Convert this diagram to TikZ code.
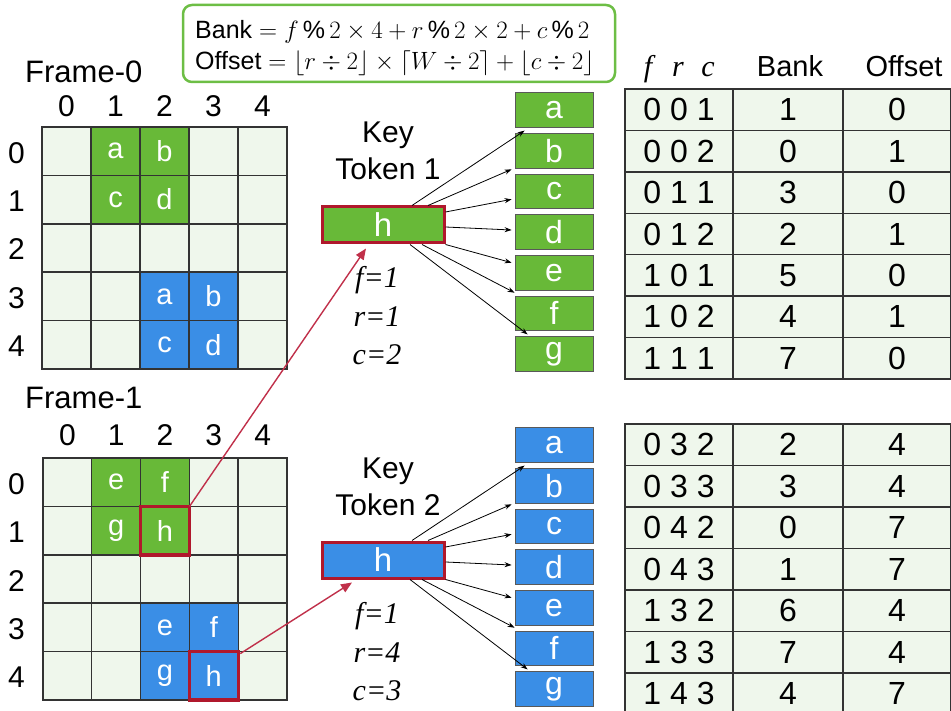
\RequirePackage{fix-cm}
\documentclass[tikz,border=0pt]{standalone}
\usepackage{fontspec}
\setmainfont{Liberation Sans}
\newfontfamily\tms{Liberation Serif}
\usetikzlibrary{arrows.meta}
\definecolor{cellbg}{HTML}{EFF7EC}
\definecolor{gr}{HTML}{68B938}
\definecolor{bl}{HTML}{3A8EE6}
\definecolor{redb}{HTML}{B0182C}
\definecolor{reda}{HTML}{C0304A}
\definecolor{gridc}{HTML}{333333}
\definecolor{boxgreen}{HTML}{6DBE45}
\begin{document}
\begin{tikzpicture}[x=1pt,y=-1pt,
  gcell/.style={draw=gridc,line width=1.5pt,fill=cellbg,minimum width=49pt,minimum height=48.4pt,inner sep=0pt,outer sep=0pt,font=\fontsize{29}{29}\selectfont,text=white},
  hcell/.style={draw=redb,line width=3.5pt,minimum width=49pt,minimum height=48.4pt,inner sep=0pt,outer sep=0pt},
  lbl/.style={inner sep=0pt,anchor=base,font=\fontsize{30}{30}\selectfont},
  ktext/.style={inner sep=0pt,anchor=base,font=\fontsize{30}{30}\selectfont},
  vtext/.style={inner sep=0pt,anchor=base,font=\fontsize{30}{30}\tms\itshape},
  tokbox/.style={draw=redb,line width=3pt,minimum width=122pt,minimum height=36pt,inner sep=0pt,text=white,font=\fontsize{33}{33}\selectfont},
  lbox/.style={draw=black!65,line width=0.8pt,minimum width=78pt,minimum height=34.5pt,inner sep=0pt,text=white,font=\fontsize{32}{32}\selectfont},
  karrow/.style={draw=black,line width=0.8pt,-{Stealth[length=7pt,width=5pt]}},
  rarrow/.style={draw=reda,line width=1.4pt,-{Triangle[length=11pt,width=9pt]}},
  tcell/.style={draw=gridc,line width=1.5pt,fill=cellbg,inner sep=0pt,outer sep=0pt,font=\fontsize{32}{32}\selectfont},
  hdr/.style={inner sep=0pt,anchor=base,font=\fontsize{29}{29}\selectfont},
  hvar/.style={inner sep=0pt,anchor=base,font=\fontsize{30}{30}\tms\itshape}
]
\useasboundingbox (0,0) rectangle (951,711);

% ---------- formula box ----------
\node[draw=boxgreen,line width=2.5pt,rounded corners=9pt,minimum width=432pt,minimum height=77pt,inner sep=0pt] (fbox) at (399,43.5) {};
\node[inner sep=0pt,anchor=base west,font=\fontsize{25}{25}\selectfont] (fl1) at (195,39) {Bank $= f \,\%\, 2 \times 4 + r \,\%\, 2 \times 2 + c \,\%\, 2$};
\node[inner sep=0pt,anchor=base west,font=\fontsize{25}{25}\selectfont] (fl2) at (195,70) {Offset $= \lfloor r \div 2 \rfloor \times \lceil W \div 2 \rceil + \lfloor c \div 2 \rfloor$};

% ---------- Frame-0 ----------
\node[inner sep=0pt,anchor=base west,font=\fontsize{31}{31}\selectfont] (F0) at (25,83) {Frame-0};
\foreach \r in {0,...,4}{\foreach \c in {0,...,4}{
  \node[gcell] (A\r\c) at ({66.5+49*\c},{151.2+48.4*\r}) {};}}
\foreach \r/\c/\col/\t in {0/1/gr/a,0/2/gr/b,1/1/gr/c,1/2/gr/d,3/2/bl/a,3/3/bl/b,4/2/bl/c,4/3/bl/d}{
  \node[gcell,fill=\col] (A\r\c) at ({66.5+49*\c},{151.2+48.4*\r}) {\t};}
\foreach \i in {0,...,4}{
  \node[lbl] (Ac\i) at ({66.5+49*\i},117) {\i};
  \node[lbl] (Ar\i) at (16.5,{151.2+48.4*\i+12}) {\i};}

% ---------- Frame-1 ----------
\node[inner sep=0pt,anchor=base west,font=\fontsize{31}{31}\selectfont] (F1) at (25,409) {Frame-1};
\foreach \r in {0,...,4}{\foreach \c in {0,...,4}{
  \node[gcell] (B\r\c) at ({67.4+48.8*\c},{482.2+48.4*\r}) {};}}
\foreach \r/\c/\col/\t in {0/1/gr/e,0/2/gr/f,1/1/gr/g,1/2/gr/h,3/2/bl/e,3/3/bl/f,4/2/bl/g,4/3/bl/h}{
  \node[gcell,fill=\col] (B\r\c) at ({67.4+48.8*\c},{482.2+48.4*\r}) {\t};}
\foreach \i in {0,...,4}{
  \node[lbl] (Bc\i) at ({67.4+48.8*\i},445) {\i};
  \node[lbl] (Br\i) at (16.5,{482.2+48.4*\i+12}) {\i};}
\node[hcell] (H1) at (B12) {};
\node[hcell] (H2) at (B43) {};

% ---------- Key tokens ----------
\foreach \k/\Y/\col/\fv/\rv/\cv in {1/0/gr/1/1/2, 2/335/bl/1/4/3}{
  \node[ktext] (Key\k) at (388,{143+\Y}) {Key};
  \node[ktext] (Tok\k) at (388,{180+\Y}) {Token \k};
  \node[tokbox,fill=\col] (T\k) at (383,{225+\Y}) {h};
  \node[vtext] (vf\k) at (377,{288+\Y}) {f=\fv};
  \node[vtext] (vr\k) at (377,{327+\Y}) {r=\rv};
  \node[vtext] (vc\k) at (377,{365+\Y}) {c=\cv};
  \foreach \t [count=\j from 0] in {a,b,c,d,e,f,g}{
    \node[lbox,fill=\col] (K\k\t) at (554,{110+40.67*\j+\Y}) {\t};}
  \draw[karrow] ([xshift=29pt]T\k.north) -- ([xshift=10pt,yshift=-3pt]K\k a.south west);
  \draw[karrow] ([xshift=45pt]T\k.north) -- ([xshift=-3pt,yshift=-1pt]K\k b.south west);
  \draw[karrow] ([yshift=13pt]T\k.east) -- ([xshift=-3pt,yshift=-8pt]K\k c.west);
  \draw[karrow] ([yshift=-2pt]T\k.east) -- ([xshift=-3pt,yshift=2pt]K\k d.west);
  \draw[karrow] (T\k.south east) -- ([xshift=-3pt,yshift=10pt]K\k e.west);
  \draw[karrow] ([xshift=39pt]T\k.south) -- ([yshift=3pt]K\k f.north west);
  \draw[karrow] ([xshift=27pt]T\k.south) -- ([xshift=13pt,yshift=2pt]K\k g.north west);
}
\draw[rarrow] (H1.north east) -- ([xshift=-17pt,yshift=-4pt]T1.south);
\draw[rarrow] ([xshift=2pt,yshift=-2pt]H2.north east) -- ([xshift=-31pt,yshift=-3pt]T2.south);

% ---------- tables ----------
\node[hvar] (hf) at (648,77) {f};
\node[hvar] (hr) at (678,77) {r};
\node[hvar] (hc) at (708,77) {c};
\node[hdr] (hb) at (790,77) {Bank};
\node[hdr] (ho) at (904,77) {Offset};
\foreach \a/\b/\o [count=\i from 0] in {0 0 1/1/0, 0 0 2/0/1, 0 1 1/3/0, 0 1 2/2/1, 1 0 1/5/0, 1 0 2/4/1, 1 1 1/7/0}{
  \node[tcell,minimum width=108pt,minimum height=41.43pt] (P\i a) at (679,{89+41.43*(\i+0.5)}) {\a};
  \node[tcell,minimum width=110pt,minimum height=41.43pt] (P\i b) at (788,{89+41.43*(\i+0.5)}) {\b};
  \node[tcell,minimum width=108pt,minimum height=41.43pt] (P\i c) at (897,{89+41.43*(\i+0.5)}) {\o};}
\foreach \a/\b/\o [count=\i from 0] in {0 3 2/2/4, 0 3 3/3/4, 0 4 2/0/7, 0 4 3/1/7, 1 3 2/6/4, 1 3 3/7/4, 1 4 3/4/7}{
  \node[tcell,minimum width=108pt,minimum height=41.5pt] (Q\i a) at (679,{424+41.5*(\i+0.5)}) {\a};
  \node[tcell,minimum width=110pt,minimum height=41.5pt] (Q\i b) at (788,{424+41.5*(\i+0.5)}) {\b};
  \node[tcell,minimum width=108pt,minimum height=41.5pt] (Q\i c) at (897,{424+41.5*(\i+0.5)}) {\o};}
\end{tikzpicture}
\end{document}
